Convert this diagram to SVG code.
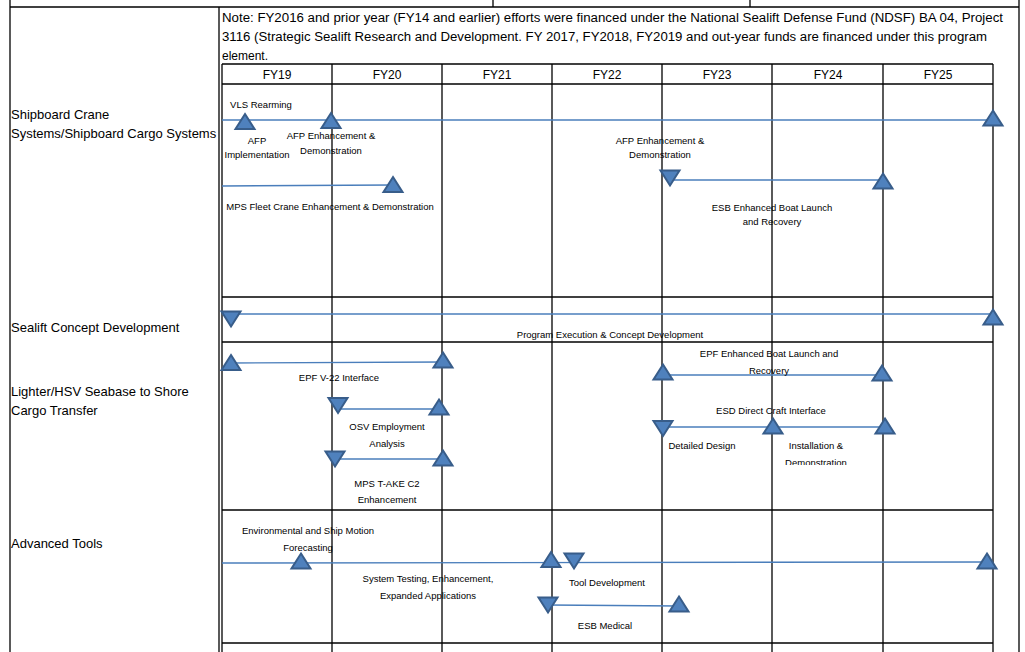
<svg xmlns="http://www.w3.org/2000/svg" xmlns:xlink="http://www.w3.org/1999/xlink" width="1025" height="652" viewBox="0 0 1025 652">
<style>
.grid{stroke:#000;stroke-width:1.3;fill:none}
.bar{stroke:#4a7ebb;stroke-width:1.4;fill:none}
.tri{fill:#4f81bd;stroke:#385d8a;stroke-width:2;stroke-linejoin:miter}
.lab{font-family:"Liberation Sans",Arial,sans-serif;font-size:13px;fill:#000}
.note{font-family:"Liberation Sans",Arial,sans-serif;font-size:12px;fill:#000}
.hdr{font-family:"Liberation Sans",Arial,sans-serif;font-size:12px;fill:#000;text-anchor:middle}
.sm{font-family:"Liberation Sans",Arial,sans-serif;font-size:9.5px;fill:#000;text-anchor:middle}
</style>
<defs>
<path id="up" class="tri" d="M0,-7.5 L9.5,7.5 L-9.5,7.5 Z"/>
<path id="dn" class="tri" d="M0,7.5 L9.5,-7.5 L-9.5,-7.5 Z"/>
<clipPath id="rowclip"><rect x="222" y="342" width="771" height="123"/></clipPath>
</defs>
<rect width="1025" height="652" fill="#fff"/>
<g id="table">
<line class="grid" x1="10" y1="7" x2="1019" y2="7"/>
<line class="grid" x1="10" y1="0" x2="10" y2="652"/>
<line class="grid" x1="219" y1="7" x2="219" y2="652"/>
<line class="grid" x1="1019" y1="0" x2="1019" y2="652"/>
<line class="grid" x1="493" y1="0" x2="493" y2="7"/>
<line class="grid" x1="750" y1="0" x2="750" y2="7"/>
<line class="grid" x1="222" y1="64" x2="993" y2="64"/>
<line class="grid" x1="222" y1="84" x2="993" y2="84"/>
<line class="grid" x1="222" y1="297" x2="993" y2="297"/>
<line class="grid" x1="222" y1="342" x2="993" y2="342"/>
<line class="grid" x1="222" y1="510" x2="993" y2="510"/>
<line class="grid" x1="222" y1="643" x2="993" y2="643"/>
<line class="grid" x1="222" y1="64" x2="222" y2="652"/>
<line class="grid" x1="332" y1="64" x2="332" y2="652"/>
<line class="grid" x1="442" y1="64" x2="442" y2="652"/>
<line class="grid" x1="552" y1="64" x2="552" y2="652"/>
<line class="grid" x1="662" y1="64" x2="662" y2="652"/>
<line class="grid" x1="772" y1="64" x2="772" y2="652"/>
<line class="grid" x1="883" y1="64" x2="883" y2="652"/>
<line class="grid" x1="993" y1="64" x2="993" y2="652"/>
</g>
<g id="note">
<text class="note" x="222" y="21.5" textLength="781" lengthAdjust="spacingAndGlyphs">Note: FY2016 and prior year (FY14 and earlier) efforts were financed under the National Sealift Defense Fund (NDSF) BA 04, Project</text>
<text class="note" x="222" y="41" textLength="765" lengthAdjust="spacingAndGlyphs">3116 (Strategic Sealift Research and Development. FY 2017, FY2018, FY2019 and out-year funds are financed under this program</text>
<text class="note" x="222" y="60">element.</text>
</g>
<g id="header">
<text class="hdr" x="277" y="79">FY19</text>
<text class="hdr" x="387" y="79">FY20</text>
<text class="hdr" x="497" y="79">FY21</text>
<text class="hdr" x="607" y="79">FY22</text>
<text class="hdr" x="717" y="79">FY23</text>
<text class="hdr" x="828" y="79">FY24</text>
<text class="hdr" x="938" y="79">FY25</text>
</g>
<g id="row-labels">
<text class="lab" x="11" y="118.5">Shipboard Crane</text>
<text class="lab" x="11" y="137.5">Systems/Shipboard Cargo Systems</text>
<text class="lab" x="11" y="331.5">Sealift Concept Development</text>
<text class="lab" x="11" y="395.5">Lighter/HSV Seabase to Shore</text>
<text class="lab" x="11" y="414.5">Cargo Transfer</text>
<text class="lab" x="11" y="547.5">Advanced Tools</text>
</g>
<g id="connectors">
<line class="bar" x1="222" y1="120" x2="993" y2="120"/>
<line class="bar" x1="222" y1="186" x2="393" y2="185"/>
<line class="bar" x1="670" y1="180" x2="883" y2="180"/>
<line class="bar" x1="222" y1="314" x2="993" y2="314"/>
<line class="bar" x1="231" y1="363" x2="443" y2="362"/>
<line class="bar" x1="338" y1="409" x2="439" y2="409"/>
<line class="bar" x1="335" y1="459" x2="443" y2="459"/>
<line class="bar" x1="663" y1="375" x2="882" y2="375"/>
<line class="bar" x1="663" y1="427" x2="885" y2="427"/>
<line class="bar" x1="222" y1="563" x2="987" y2="562"/>
<line class="bar" x1="548" y1="605" x2="679" y2="606"/>
</g>
<g id="milestones">
<use xlink:href="#up" x="245" y="121.5"/>
<use xlink:href="#up" x="331" y="120.5"/>
<use xlink:href="#up" x="993" y="118"/>
<use xlink:href="#up" x="393" y="184.5"/>
<use xlink:href="#dn" x="670" y="178"/>
<use xlink:href="#up" x="883" y="181"/>
<use xlink:href="#dn" x="231" y="319"/>
<use xlink:href="#up" x="993" y="317"/>
<use xlink:href="#up" x="231" y="362.5"/>
<use xlink:href="#up" x="443" y="360"/>
<use xlink:href="#dn" x="338" y="405.5"/>
<use xlink:href="#up" x="439" y="407"/>
<use xlink:href="#dn" x="335" y="459"/>
<use xlink:href="#up" x="443" y="458"/>
<use xlink:href="#up" x="663" y="372"/>
<use xlink:href="#up" x="882" y="373"/>
<use xlink:href="#dn" x="663" y="428.5"/>
<use xlink:href="#up" x="773" y="426"/>
<use xlink:href="#up" x="885" y="426"/>
<use xlink:href="#up" x="301" y="561"/>
<use xlink:href="#up" x="551" y="559.5"/>
<use xlink:href="#dn" x="574" y="561"/>
<use xlink:href="#up" x="987" y="561"/>
<use xlink:href="#dn" x="548" y="605"/>
<use xlink:href="#up" x="679" y="604"/>
</g>
<g id="labels">
<text class="sm" x="261" y="107.5">VLS Rearming</text>
<text class="sm" x="257" y="143.5">AFP</text>
<text class="sm" x="257" y="157.5">Implementation</text>
<text class="sm" x="331" y="138.5">AFP Enhancement &amp;</text>
<text class="sm" x="331" y="153.5">Demonstration</text>
<text class="sm" x="330" y="209.5">MPS Fleet Crane Enhancement &amp; Demonstration</text>
<text class="sm" x="660" y="143.5">AFP Enhancement &amp;</text>
<text class="sm" x="660" y="157.5">Demonstration</text>
<text class="sm" x="772" y="210.5">ESB Enhanced Boat Launch</text>
<text class="sm" x="772" y="224.5">and Recovery</text>
<text class="sm" x="610" y="337.5">Program Execution &amp; Concept Development</text>
<text class="sm" x="339" y="380.5">EPF V-22 Interface</text>
<text class="sm" x="387" y="429.5">OSV Employment</text>
<text class="sm" x="387" y="446.5">Analysis</text>
<text class="sm" x="387" y="486.5">MPS T-AKE C2</text>
<text class="sm" x="387" y="502.5">Enhancement</text>
<text class="sm" x="769" y="356.5">EPF Enhanced Boat Launch and</text>
<text class="sm" x="769" y="373.5">Recovery</text>
<text class="sm" x="771" y="413.5">ESD Direct Craft Interface</text>
<text class="sm" x="702" y="448.5">Detailed Design</text>
<text class="sm" x="816" y="448.5">Installation &amp;</text>
<text class="sm" x="816" y="465.5" clip-path="url(#rowclip)">Demonstration</text>
<text class="sm" x="308" y="533.5">Environmental and Ship Motion</text>
<text class="sm" x="308" y="550.5">Forecasting</text>
<text class="sm" x="428" y="581.5">System Testing, Enhancement,</text>
<text class="sm" x="428" y="598.5">Expanded Applications</text>
<text class="sm" x="607" y="585.5">Tool Development</text>
<text class="sm" x="605" y="628.5">ESB Medical</text>
</g>
</svg>
